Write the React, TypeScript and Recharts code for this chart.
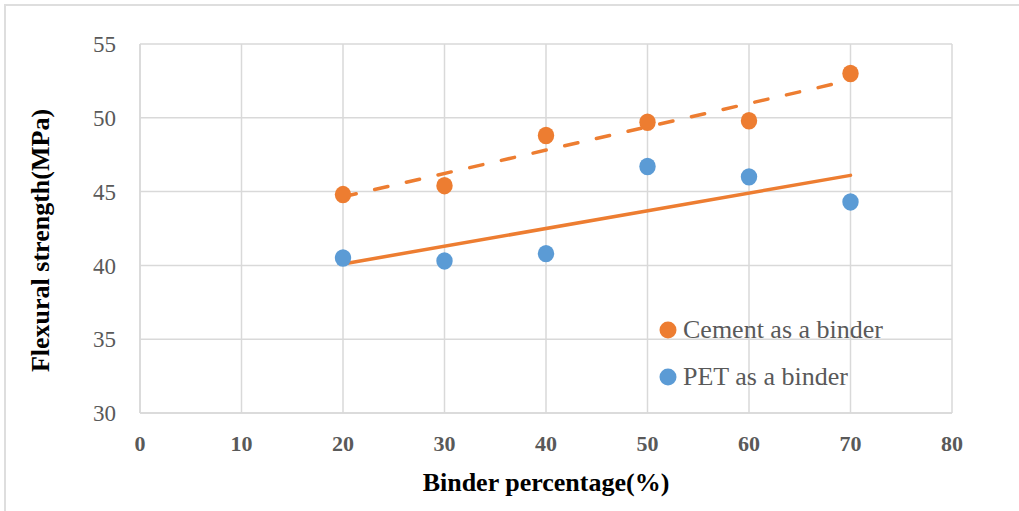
import React from 'react';
import { ComposedChart, Scatter, Line, XAxis, YAxis, CartesianGrid, Legend } from 'recharts';

const binderPct = [20, 30, 40, 50, 60, 70];
const cementStrength = [44.8, 45.4, 48.8, 49.7, 49.8, 53.0];
const petStrength = [40.5, 40.3, 40.8, 46.7, 46.0, 44.3];
const trendX = [20, 70];
const cementTrend = [44.65, 52.55];
const petTrend = [40.1, 46.1];
const xTicks = [0, 10, 20, 30, 40, 50, 60, 70, 80];
const yTicks = [30, 35, 40, 45, 50, 55];

const ORANGE = '#ED7D31';
const BLUE = '#5B9BD5';
const GRID = '#d9d9d9';
const TEXT = '#595959';
const FONT = 'Liberation Serif';

const cementData = binderPct.map((x, i) => ({ x, y: cementStrength[i] }));
const petData = binderPct.map((x, i) => ({ x, y: petStrength[i] }));
const cementTrendData = trendX.map((x, i) => ({ x, y: cementTrend[i] }));
const petTrendData = trendX.map((x, i) => ({ x, y: petTrend[i] }));

const dot = (color: string) => (props: any) => (
  <ellipse cx={props.cx} cy={props.cy} rx={8.2} ry={8.7} fill={color} />
);

const YTitle = (props: any) => {
  const vb = props.viewBox || { x: 0, y: 0, width: 0, height: 0 };
  const cx = vb.x + 40;
  const cy = vb.y + vb.height / 2 + 12;
  return (
    <text
      x={cx}
      y={cy}
      transform={`rotate(-90 ${cx} ${cy})`}
      textAnchor="middle"
      dominantBaseline="central"
      style={{ fontFamily: FONT, fontWeight: 'bold', fontSize: 26, fill: '#000' }}
    >
      Flexural strength(MPa)
    </text>
  );
};

const LegendContent = (props: any) => {
  const items = (props.payload || []).filter((p: any) => p.type !== 'none');
  return (
    <div style={{ fontFamily: FONT, fontSize: 26, color: TEXT, lineHeight: 1 }}>
      {items.map((p: any, i: number) => (
        <div key={i} style={{ display: 'flex', alignItems: 'center', height: 47 }}>
          <svg width={18} height={18} style={{ marginRight: 6 }}>
            <circle cx={9} cy={9} r={8.5} fill={p.color} />
          </svg>
          <span>{p.value}</span>
        </div>
      ))}
    </div>
  );
};

export default function App() {
  return (
    <div style={{ position: 'absolute', left: 0, top: 0, width: 1019, height: 511, background: '#fff', fontFamily: FONT }}>
      <div
        style={{
          position: 'absolute',
          left: 4,
          top: 4,
          right: 0,
          bottom: 0,
          borderLeft: '2px solid #dedede',
          borderTop: '2px solid #dedede',
        }}
      />
      <ComposedChart
        width={1019}
        height={511}
        margin={{ top: 44, right: 67, bottom: 0, left: 0 }}
        style={{ position: 'absolute', left: 0, top: 0, fontFamily: FONT }}
      >
        <CartesianGrid stroke={GRID} strokeWidth={1.5} />
        <XAxis
          type="number"
          dataKey="x"
          domain={[0, 80]}
          ticks={xTicks}
          interval={0}
          allowDataOverflow
          height={98}
          axisLine={{ stroke: GRID, strokeWidth: 1.5 }}
          tickLine={false}
          tickSize={0}
          tickMargin={22}
          tick={{ fontFamily: FONT, fontSize: 22, fontWeight: 'bold', fill: TEXT }}
          label={{
            value: 'Binder percentage(%)',
            position: 'insideBottom',
            offset: 20,
            style: { fontFamily: FONT, fontSize: 26, fontWeight: 'bold', fill: '#000' },
          }}
        />
        <YAxis
          type="number"
          dataKey="y"
          domain={[30, 55]}
          ticks={yTicks}
          interval={0}
          allowDataOverflow
          width={140}
          axisLine={{ stroke: GRID, strokeWidth: 1.5 }}
          tickLine={false}
          tickSize={0}
          tickMargin={24}
          tick={{ fontFamily: FONT, fontSize: 23, fill: TEXT }}
          label={{ content: YTitle }}
        />
        <Scatter name="Cement as a binder" data={cementData} fill={ORANGE} shape={dot(ORANGE)} isAnimationActive={false} />
        <Scatter name="PET as a binder" data={petData} fill={BLUE} shape={dot(BLUE)} isAnimationActive={false} />
        <Line
          data={cementTrendData}
          dataKey="y"
          type="linear"
          stroke={ORANGE}
          strokeWidth={3.5}
          strokeDasharray="13.5 19"
          strokeLinecap="round"
          dot={false}
          activeDot={false}
          legendType="none"
          isAnimationActive={false}
        />
        <Line
          data={petTrendData}
          dataKey="y"
          type="linear"
          stroke={ORANGE}
          strokeWidth={3.5}
          strokeLinecap="round"
          dot={false}
          activeDot={false}
          legendType="none"
          isAnimationActive={false}
        />
        <Legend
          layout="vertical"
          align="center"
          verticalAlign="middle"
          content={LegendContent}
          wrapperStyle={{ position: 'absolute', left: 659, top: 306, width: 'auto', height: 'auto' }}
        />
      </ComposedChart>
    </div>
  );
}
